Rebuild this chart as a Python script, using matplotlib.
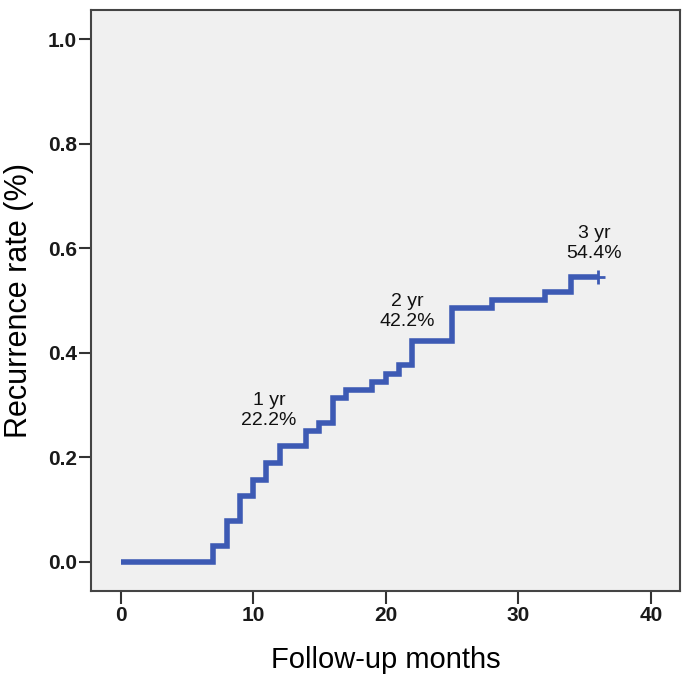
import matplotlib
matplotlib.use("Agg")
from matplotlib import pyplot as plt

# follow-up months at each event and cumulative recurrence rate after it
months = [0, 7, 8, 9, 10, 11, 12, 14, 15, 16, 17, 19, 20, 21, 22, 25, 28, 32, 34, 36]
rates = [0.0, 0.031, 0.078, 0.125, 0.156, 0.188, 0.222, 0.250, 0.266, 0.313,
         0.328, 0.344, 0.360, 0.377, 0.422, 0.485, 0.500, 0.516, 0.544, 0.544]
censorX = [36]
censorY = [0.544]

noteText = ['1 yr\n22.2%', '2 yr\n42.2%', '3 yr\n54.4%']
noteX = [11.2, 21.6, 35.7]
noteY = [0.289, 0.479, 0.609]

xticks = [0, 10, 20, 30, 40]
yticks = [0.0, 0.2, 0.4, 0.6, 0.8, 1.0]

plt.rcParams['font.family'] = ['Liberation Sans', 'DejaVu Sans']

fig = plt.figure(figsize=(6.85, 6.8), dpi=100)
ax = fig.add_axes([0.1328, 0.1309, 0.8599, 0.8544])
ax.set_facecolor('#F0F0F0')

ax.step(months, rates, where='post', color='#3D5AB4', linewidth=4,
        solid_capstyle='butt', solid_joinstyle='miter')
ax.plot(censorX, censorY, linestyle='none', marker='+', color='#3D5AB4',
        markersize=10, markeredgewidth=2)

for t, x, y in zip(noteText, noteX, noteY):
    ax.text(x, y, t, ha='center', va='center', fontsize=14, color='#111111',
            linespacing=1.2)

ax.set_xlim(-2.24, 42.2)
ax.set_ylim(-0.056, 1.0555)
ax.set_xticks(xticks)
ax.set_yticks(yticks)
ax.set_yticklabels(['%.1f' % v for v in yticks])

tickFont = ['Liberation Sans Narrow', 'Liberation Sans', 'DejaVu Sans']
for lab in ax.get_xticklabels() + ax.get_yticklabels():
    lab.set_family(tickFont)
    lab.set_fontweight('bold')
    lab.set_fontsize(15)
    lab.set_color('#1a1a1a')

ax.tick_params(direction='out', length=9, width=1.5, color='#333333', pad=2)
ax.tick_params(axis='y', pad=1)
for s in ax.spines.values():
    s.set_color('#444444')
    s.set_linewidth(1.5)

ax.set_xlabel('Follow-up months', fontsize=21, labelpad=15)
ax.set_ylabel('Recurrence rate (%)', fontsize=22, labelpad=10)

fig.savefig('out.png', dpi=100)
